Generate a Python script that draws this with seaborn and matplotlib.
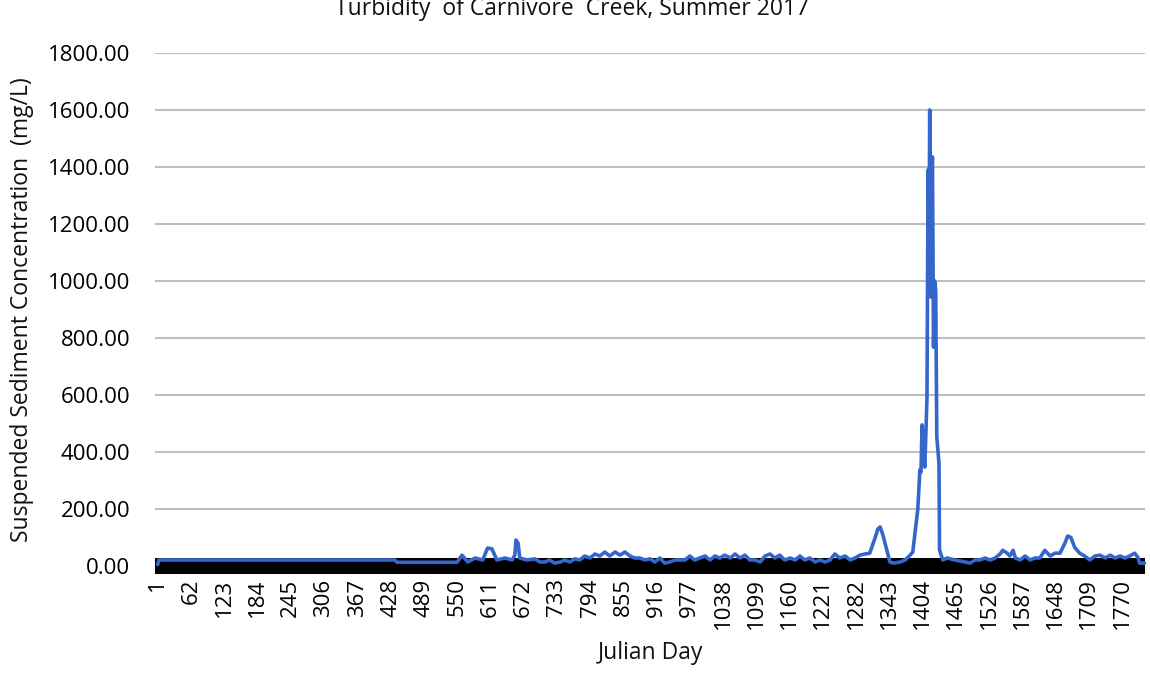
import matplotlib
matplotlib.use("Agg")
import matplotlib.pyplot as plt
import numpy as np
import pandas as pd
import seaborn as sns

# day index and suspended sediment concentration
day = [1, 3, 436, 440, 550, 559, 570, 583, 597, 606, 614, 623, 638, 651, 656, 658, 662, 665,
       678, 693, 702, 711, 720, 729, 739, 748, 757, 766, 775, 784, 794, 803, 812, 821, 830,
       840, 849, 858, 867, 876, 885, 895, 904, 913, 922, 931, 940, 950, 959, 968, 977, 986,
       995, 1005, 1014, 1023, 1032, 1041, 1051, 1060, 1069, 1078, 1087, 1096, 1106, 1115,
       1124, 1133, 1142, 1151, 1161, 1170, 1179, 1188, 1197, 1207, 1216, 1225, 1234, 1243,
       1252, 1262, 1271, 1280, 1289, 1298, 1307, 1317, 1322, 1326, 1331, 1335, 1344, 1350,
       1363, 1372, 1381, 1386, 1390, 1395, 1399, 1401, 1403, 1406, 1408, 1412, 1414, 1416,
       1417, 1419, 1420, 1422, 1424, 1426, 1428, 1430, 1434, 1435, 1441, 1449, 1463, 1482,
       1491, 1500, 1509, 1518, 1528, 1537, 1546, 1551, 1559, 1564, 1570, 1574, 1583, 1592,
       1601, 1610, 1619, 1628, 1638, 1647, 1656, 1665, 1670, 1676, 1683, 1692, 1701, 1711,
       1720, 1729, 1739, 1748, 1757, 1766, 1775, 1784, 1793, 1799, 1802, 1811]
ssc = [5, 21, 21, 13, 13, 38, 14, 28, 21, 63, 60, 21, 28, 21, 38, 91, 80, 28,
       21, 25, 14, 14, 21, 10, 14, 21, 14, 25, 21, 35, 28, 42, 35, 49, 35,
       49, 38, 49, 35, 28, 28, 21, 25, 14, 28, 10, 14, 21, 21, 21, 35, 21,
       28, 35, 21, 35, 28, 38, 28, 42, 28, 38, 21, 21, 14, 35,
       42, 28, 38, 21, 28, 21, 35, 21, 28, 14, 21, 14, 21, 42,
       28, 35, 21, 28, 38, 42, 45, 100, 130, 137, 110, 80, 14, 10,
       14, 21, 38, 49, 116, 196, 337, 330, 495, 400, 347, 590, 1390, 1200,
       1600, 944, 1300, 1435, 768, 1000, 968, 453, 361, 56, 21, 28, 21, 14,
       10, 21, 21, 28, 21, 28, 42, 55, 45, 35, 55, 28, 21, 35,
       21, 28, 28, 55, 35, 45, 45, 80, 105, 100, 65, 45, 35, 21,
       35, 38, 28, 38, 28, 35, 28, 35, 45, 30, 10, 10]

# dark baseline series
band_day = [-4, 1812]
band_val = [0, 0]

tick_days = list(range(1, 1771, 61))
y_ticks = list(range(0, 1801, 200))

df = pd.DataFrame({"day": day, "ssc": ssc})

sns.set_theme(style="white")
plt.rcParams["font.family"] = ["Open Sans", "DejaVu Sans"]

fig = plt.figure(figsize=(11.5, 6.81), dpi=100)
ax = fig.add_axes([0.1348, 0.1689, 0.8609, 0.7533])

ax.plot(band_day, band_val, color="black", lw=11.5, solid_capstyle="butt",
        clip_on=False, zorder=2)
sns.lineplot(data=df, x="day", y="ssc", color="#3566cc", lw=2.6, ax=ax,
             zorder=3, clip_on=False)

ax.set_xlim(-4, 1812)
ax.set_ylim(0, 1800)
ax.set_yticks(y_ticks)
ax.set_yticklabels([f"{v:.2f}" for v in y_ticks], fontsize=16, color="#000000")
ax.set_xticks(tick_days)
ax.set_xticklabels([str(d) for d in tick_days], rotation=90, fontsize=16,
                   color="#000000")
ax.tick_params(axis="y", length=0, pad=18)
ax.tick_params(axis="x", length=0, pad=9)
ax.yaxis.grid(True, color="#bfbfbf", lw=1.5)
ax.set_axisbelow(True)
for s in ax.spines.values():
    s.set_visible(False)

ax.set_xlabel("Julian Day", fontsize=16.5, color="#111111", labelpad=8)
ax.set_ylabel("Suspended Sediment Concentration  (mg/L)", fontsize=16.5,
              color="#111111", labelpad=10)

# title sits partly above the top edge, as in the original
fig.text(0.497, 1 - 15 / 681, "Turbidity  of Carnivore  Creek, Summer 2017",
         ha="center", va="baseline", fontsize=16.5, color="#111111")

fig.savefig("out.png", dpi=100)
